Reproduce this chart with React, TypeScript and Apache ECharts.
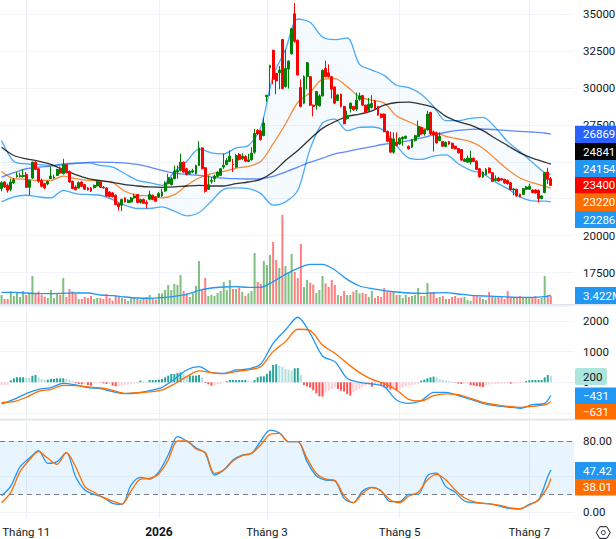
import React, { useEffect, useRef } from "react";
import * as echarts from "echarts";

const FONT = "Roboto, sans-serif";
const FONT_SIZE = 11.5;
const SLOTS = 186;
const tickBars = [8, 51, 86, 129, 171];
const tickLabels = ["Tháng 11", "2026", "Tháng 3", "Tháng 5", "Tháng 7"];

const opens = [
23185,23633,23409,23140,23588,23992,23992,24014,24149,23274,
23902,24978,24530,23745,23521,23498,23857,23902,24081,24575,
24194,24799,24350,23678,23297,23230,23633,23454,23230,23230,
23252,23364,23633,23274,23230,22960,22893,22736,22176,22064,
22557,22243,22288,22557,22781,22243,22445,22243,22467,22736,
22624,22624,22691,23028,23521,23454,23857,24306,24418,24978,
24530,24194,24306,24194,24754,25942,24597,23140,23678,23857,
24014,24081,24642,24821,25023,24821,24642,25494,25202,25360,
25023,25135,25651,27130,27086,26772,29417,31368,32534,30987,
31032,33274,30090,31278,32310,35022,33229,30023,28969,30763,
30763,28834,28834,28790,29462,31323,31032,30763,30067,29148,
29574,28745,27938,28610,28745,28565,29238,29484,28834,28453,
28678,29126,28745,28229,28229,27063,26592,25651,26323,26211,
26548,26592,26054,25987,26436,26705,27332,26884,27175,28341,
26996,26951,26436,26368,26032,26368,26256,26054,25897,25830,
25023,24978,24978,25247,25046,24530,23970,24126,24575,24261,
23745,23902,23857,23812,23745,23588,23095,23140,22803,22803,
23140,23140,23095,23095,23073,22512,22916,24306,23857];
const closes = [
23588,23297,23073,23633,23790,24081,24059,24081,23274,23745,
24978,24485,23678,23342,23230,23678,24037,23970,24485,24239,
24821,24261,23633,23185,23117,23588,23342,23140,23095,23028,
23409,23655,23274,23230,22691,22647,22647,22108,21952,22445,
22288,22400,22557,22691,22243,22445,22198,22154,22781,22445,
22333,22848,22960,23566,23925,23857,24373,24418,24978,24306,
24126,24350,24395,24754,25942,24530,23005,23454,23745,24037,
24306,24530,24754,25090,25382,24799,25427,25158,25382,25046,
25135,25584,26929,26884,26503,27624,29507,31525,30583,30471,
31211,29956,31323,31816,34013,33161,30875,28745,30763,31704,
28834,28745,29754,29462,31188,30763,30763,29911,28969,29529,
28745,27579,28117,28969,28520,29171,29462,28834,28341,28902,
28947,28610,28162,28005,27041,26391,25651,26548,26099,26592,
26660,26727,25875,26503,26772,27377,26884,27175,28229,26884,
26817,26279,26727,26054,26323,26211,25920,25875,25606,25113,
25158,25247,25247,25023,24485,23992,24306,24485,24261,23678,
23857,23700,23768,23566,23521,23117,23162,22691,22647,23185,
23297,23342,22916,22893,22512,22691,24261,23812,23400];
const highs = [
23678,23678,23521,23857,23902,24306,24261,24485,24306,23790,
25023,25023,24575,23857,23588,23723,24687,24126,24530,24687,
25202,24844,24395,23723,23409,23678,23678,23521,23297,23297,
23454,23700,23678,23364,23274,23005,22960,22781,22243,22512,
22602,22467,22624,22848,22826,22512,22512,22400,23050,22781,
22669,22960,23185,23678,24194,23970,24754,24754,25539,25023,
24597,24440,24530,24799,26391,25987,24642,24081,23970,24126,
24350,24575,25539,25247,25763,25202,25539,25584,25584,25427,
25539,25987,27220,27220,27175,28005,29507,31570,32601,31032,
31480,33319,32601,31861,34058,35740,33274,30583,30852,31749,
30807,28879,29799,29574,31256,31839,31592,30807,30090,29574,
29619,28790,28453,29014,28790,29686,29686,29529,28879,29328,
29507,29171,28790,28274,28274,27108,27041,26996,26996,26660,
26727,26772,26099,26548,26817,27781,27377,27220,28453,28386,
27108,27041,26996,26413,26368,26413,26301,26099,25942,25875,
25247,25427,25741,25292,25090,24575,24350,24575,24620,24306,
24081,23970,23902,23857,23790,23633,23230,23185,22848,23230,
23364,23521,23140,23140,23117,22736,24306,24597,23970];
const lows = [
23005,23230,22916,23005,23498,23925,23947,23925,23230,22736,
23857,24440,23588,23274,23140,23409,23835,23857,24037,24171,
24149,24216,23588,23140,23050,23185,23274,23095,23050,22960,
23185,23319,23230,23185,22647,22602,22580,22064,21705,21660,
22243,22198,22221,22512,22198,22176,22154,21840,22400,22400,
22288,22557,22624,22960,23476,23409,23812,23857,24350,24261,
24081,24126,24239,24149,24709,24485,22916,23095,23521,23633,
23970,24037,24530,24754,24978,24306,24597,25090,25135,24978,
24978,25090,25539,26817,26436,26727,29059,29462,30247,29574,
29911,29911,30023,29956,32265,33049,30852,28678,28902,29911,
28790,28072,28520,28745,29417,30718,30695,29283,28902,29103,
28678,27534,27848,28341,28453,28453,29126,28790,28296,28386,
28610,28565,28117,27938,26996,26323,25606,25539,26054,26144,
26099,26548,25830,25920,26368,26660,26817,26772,27108,26817,
25696,26234,26391,26009,25987,26144,25875,25830,25561,25068,
24978,24934,24821,24978,24440,23925,23902,24081,24216,23633,
23678,23655,23723,23521,23454,23073,22736,22647,22602,22759,
23095,23095,22871,22848,22243,22467,22871,23498,23380];

const volumeM = [
3.54,1.97,1.97,4.98,3.14,4.45,2.75,5.11,3.54,4.19,
11,3.93,4.98,3.54,2.88,2.36,5.5,2.36,4.19,3.67,
10.22,2.75,5.9,4.98,3.93,1.97,1.97,2.75,2.36,3.14,
1.97,2.36,2.36,1.97,3.93,2.36,1.31,3.41,2.75,2.36,
1.97,1.18,2.75,2.36,1.97,1.7,2.36,2.75,3.54,1.97,
1.7,4.19,4.19,5.5,7.47,5.5,7.86,7.47,11.4,5.11,
4.19,2.75,4.19,7.07,16.9,5.5,10.22,3.14,3.54,3.14,
4.32,5.11,8.65,5.5,9.43,5.9,5.9,6.55,4.72,3.14,
4.19,5.11,20.04,8.65,7.86,16.9,15.33,19.26,24.37,17.29,
14.15,34.98,14.93,12.58,19.65,12.58,10.22,23.58,6.68,9.43,
8.38,7.6,4.32,5.5,11,8.12,6.68,9.43,7.47,3.54,
3.14,5.11,3.54,3.54,4.85,5.5,4.19,4.32,3.93,2.75,
5.11,2.36,3.14,2.75,6.29,5.11,5.11,4.72,3.54,3.54,
2.36,3.54,2.75,3.14,3.54,6.29,3.14,3.14,8.25,4.72,
4.72,2.36,2.75,3.14,1.97,1.97,2.75,3.14,2.36,2.49,
2.75,1.57,1.18,3.14,3.54,2.75,1.97,1.57,4.72,3.14,
3.14,3.14,2.75,1.97,5.11,2.36,2.36,2.36,3.14,2.36,
2.36,2.75,2.36,3.14,1.97,2.36,11,3.54,3.14];

const macdHist = [
-87,-87,-87,65,130,163,163,163,152,141,
217,239,163,109,76,87,109,109,130,130,
130,119,87,43,-33,-54,-65,-65,-87,-109,
-33,-33,-22,-33,-54,-54,-109,-130,-119,-109,
-76,-76,-54,-43,-33,54,33,22,76,76,
76,87,109,163,217,272,272,304,326,272,
217,217,217,217,239,163,-22,-65,-109,-109,
-65,-54,-22,33,76,76,76,76,76,76,
54,33,76,163,195,195,272,380,565,586,
543,500,434,413,380,456,467,239,-87,-130,
-174,-261,-358,-456,-467,-326,-272,-217,-163,-217,
-272,-304,-380,-434,-326,-272,-217,-163,-109,-87,
-152,-87,-65,-87,-163,-195,-239,-239,-272,-239,
-174,-141,-109,-87,-76,-54,54,87,130,163,
185,163,109,76,54,33,22,-11,-43,-54,
-43,-43,-87,-109,-130,-141,-152,-109,-76,-54,
-54,-54,-43,-43,-33,-43,-43,-33,-22,-22,
43,65,76,76,76,76,163,239,200];

const lineBars = [0,4,8,12,16,20,24,28,32,36,40,44,48,52,56,60,64,68,72,76,80,84,88,92,96,100,104,108,112,116,120,124,128,132,136,140,144,148,152,156,160,164,168,172,176,178];
const bbUpper = [
26436,25023,24866,24821,24754,24866,24911,24933,24754,24642,
24194,23745,23588,23409,24350,25023,25875,25606,25539,25942,
26099,27332,30807,32601,34664,34439,33453,33274,33386,31592,
31211,30852,30180,30023,29574,28745,27781,27781,27938,28005,
27332,26368,25696,24978,24261,24154];
const bbMid = [
24350,23857,23812,23745,23745,24037,23857,23745,23700,23588,
23005,22736,22691,22557,22781,23409,23902,24194,24350,24575,
24687,25023,26211,27557,29014,29686,30583,30628,30090,29395,
29171,28969,28117,27713,27332,27041,26727,26548,26368,25920,
25202,24485,23902,23588,23342,23220];
const bbLower = [
22288,22624,22736,22624,22557,23073,22848,22781,22736,22445,
22064,21840,21840,21952,21660,21346,21570,22333,23140,23229,
23185,22848,22064,22288,23073,25875,27624,27893,27108,27332,
27355,27108,26099,25247,25158,25382,25471,24866,24418,24194,
23633,23185,22624,22355,22333,22286];
const maBlack = [
25987,25427,25202,25046,24821,24463,24126,23857,23723,23611,
23454,23364,23297,23274,23297,23364,23409,23364,23364,23521,
23633,23812,24306,25090,25763,26548,27265,27713,28072,28229,
28453,28834,29014,29036,28902,28678,28072,27713,27489,27108,
26592,26099,25606,25247,24978,24841];
const maBlue = [
23969,24261,24530,24642,24709,24799,24888,24956,24978,24956,
24911,24821,24642,24418,24239,24149,24081,23969,23902,23857,
23835,23857,24014,24306,24642,24978,25247,25539,25696,25875,
26032,26189,26279,26436,26615,26817,27000,27130,27198,27220,
27175,27108,27063,27018,26951,26869];
const volumeMA = [
4.59,4.59,4.32,4.06,4.06,4.19,4.32,4.32,3.54,3.28,
2.75,2.36,2.23,2.49,3.01,3.8,5.37,6.29,6.68,6.81,
6.55,6.55,8.78,11.66,14.02,15.59,15.59,13.36,9.69,7.07,
6.03,5.24,4.72,4.32,4.19,4.32,4.45,3.93,3.41,3.14,
3.01,2.75,2.62,2.62,2.88,3.422];
const macdLine = [
-706,-554,-369,-228,-174,-33,-87,-174,-206,-304,
-369,-348,-272,-163,98,402,510,315,293,402,
434,597,1271,1705,2118,1596,858,673,130,0,
-54,-141,-576,-684,-597,-326,-326,-434,-554,-684,
-760,-804,-847,-728,-684,-431];
const macdSignal = [
-652,-630,-489,-293,-228,-98,-109,-152,-185,-261,
-358,-337,-315,-250,-54,185,369,315,282,348,
402,510,999,1325,1727,1683,1216,945,619,315,
98,-33,-250,-554,-608,-434,-380,-402,-521,-652,
-728,-782,-815,-782,-738,-631];

const stochBars = [0,3,6,9,12,15,18,21,24,27,30,33,36,39,42,45,48,51,54,57,60,63,66,69,72,75,78,81,84,87,90,93,96,99,102,105,108,111,114,117,120,123,126,129,132,135,138,141,144,147,150,153,156,159,162,165,168,171,174,177,178];
const stochK = [
18.4,29.3,51.2,60.7,69.3,55,56.9,67.1,39.9,24.8,
19.9,16.5,9.7,8.6,30.5,39.1,37.2,45.6,64.4,85.2,
80.3,72.7,66.3,41.8,47.4,58.8,64.4,66.3,80.3,92.7,
89.7,79.5,79.5,56.9,41,36.1,35,15.4,10.4,23.7,
27.8,23.7,11.6,11.6,19.9,19.9,41,44,28.6,22.2,
12.3,10.4,9.7,8.6,5.9,3.7,3.3,8.6,13.5,39.9,47.42];
const stochD = [
10.4,22.2,45.6,58.8,68.2,60.7,53.9,67.1,51.2,28.6,
22.2,16.1,12.3,8.9,23.7,37.2,38,43.3,58.8,80.3,
80.3,71.2,67.5,43.7,47.4,57.6,63.7,66.3,75.8,87.8,
89,79.5,79.5,60.7,43.7,37.2,35.7,18.4,10.4,21,
27.4,23.7,13.5,10.4,18,22.2,36.1,42.5,36.1,24.8,
16.1,11.6,9.7,8.9,7.1,4.4,3.7,7.8,13.5,28.6,38.01];

const priceBadges = [
  { text: "26869", top: 125.7, h: 17.4, fill: "#2962ff" },
  { text: "24841", top: 143.1, h: 17, fill: "#000000" },
  { text: "24154", top: 160.1, h: 17, fill: "#2196f3" },
  { text: "23400", top: 177.1, h: 16.6, fill: "#ff0000" },
  { text: "23220", top: 193.7, h: 17.3, fill: "#ff6d00" },
  { text: "22286", top: 211, h: 17, fill: "#2196f3" },
  { text: "3.422M", top: 287, h: 17, fill: "#2196f3" },
  { text: "−431", top: 387.5, h: 16.5, fill: "#2196f3" },
  { text: "−631", top: 404, h: 15.5, fill: "#ff6d00" },
  { text: "47.42", top: 462, h: 17, fill: "#2196f3" },
  { text: "38.01", top: 479, h: 16.5, fill: "#ff6d00" },
];

const GRID = "#f0f3fa";
const SEP = "#e0e3eb";
const pairs = (xs: number[], ys: number[]) => xs.map((x, i) => [x, ys[i]]);

function buildOption() {
  const labelled = new Map(tickBars.map((b, i) => [b, tickLabels[i]]));
  const cats = Array.from({ length: SLOTS }, (_, i) => labelled.get(i) ?? String(i));
  const isTick = (i: number) => labelled.has(i);

  const hiddenX = (gridIndex: number) => ({
    type: "category", gridIndex, data: cats, boundaryGap: true, show: false,
  });
  const yLabel = { color: "#131722", fontFamily: FONT, fontSize: FONT_SIZE, margin: 9, align: "left" as const, formatter: (v: number) => String(v) };
  const lineSeries = (name: string, xs: number[], ys: number[], axis: number, color: string, width = 1.3, z = 3) => ({
    type: "line", name, xAxisIndex: axis, yAxisIndex: axis, data: pairs(xs, ys),
    showSymbol: false, smooth: 0.3, lineStyle: { color, width }, silent: true, z,
  });

  const isUp = (i: number) => closes[i] >= opens[i];
  const green = "#008000", red = "#ff0000";
  const gridBase = { left: 0, right: 42, outerBoundsMode: "none", containLabel: false };
  const badgeFont = `${FONT_SIZE}px ${FONT}`;

  return {
    animation: false,
    tooltip: { show: false },
    grid: [
      { ...gridBase, top: 0, height: 518 },          // frame: vertical lines and time labels
      { ...gridBase, top: -22.88, height: 295.5 },   // price
      { ...gridBase, top: 0, height: 304 },          // volume
      { ...gridBase, top: 306, height: 107 },        // MACD
      { ...gridBase, top: 420, height: 91.9 },       // stochastic
    ],
    xAxis: [
      {
        type: "category", gridIndex: 0, data: cats, boundaryGap: true, position: "bottom",
        axisLine: { show: false }, axisTick: { show: false },
        splitLine: { show: true, alignWithLabel: true, interval: (i: number) => isTick(i), lineStyle: { color: "#eceff6", width: 1 } },
        axisLabel: {
          show: true, interval: (i: number) => isTick(i), margin: 8, color: "#131722", fontFamily: FONT, fontSize: FONT_SIZE,
          hideOverlap: false,
          formatter: (v: string) => (v === "2026" ? "{b|2026}" : v),
          rich: { b: { fontWeight: "bold", fontFamily: FONT, fontSize: 12, color: "#131722" } },
        },
      },
      hiddenX(1), hiddenX(2), hiddenX(3), hiddenX(4),
    ],
    yAxis: [
      { type: "value", gridIndex: 0, show: false, min: 0, max: 1 },
      {
        type: "value", gridIndex: 1, position: "right", min: 17500, max: 37500, interval: 2500,
        axisLine: { show: false }, axisTick: { show: false }, axisLabel: { ...yLabel, showMaxLabel: false },
        splitLine: { lineStyle: { color: GRID, width: 1 } },
      },
      { type: "value", gridIndex: 2, show: false, min: 0, max: 119.5, splitLine: { show: false } },
      {
        type: "value", gridIndex: 3, position: "right", min: -1000, max: 2485, interval: 1000,
        axisLine: { show: false }, axisTick: { show: false }, axisLabel: { ...yLabel, showMaxLabel: false },
        splitLine: { lineStyle: { color: GRID, width: 1 } },
      },
      {
        type: "value", gridIndex: 4, position: "right", min: 0, max: 104.1, interval: 40,
        axisLine: { show: false }, axisTick: { show: false },
        axisLabel: { ...yLabel, showMaxLabel: false, formatter: (v: number) => v.toFixed(2) },
        splitLine: { lineStyle: { color: GRID, width: 1 } },
      },
    ],
    graphic: [
      { type: "line", z: 90, shape: { x1: 0, y1: 304.8, x2: 616, y2: 304.8 }, style: { stroke: SEP, lineWidth: 1.4 } },
      { type: "line", z: 90, shape: { x1: 0, y1: 419.4, x2: 616, y2: 419.4 }, style: { stroke: SEP, lineWidth: 1.4 } },
      ...priceBadges.flatMap((b) => [
        { type: "rect", z: 100, shape: { x: 575, y: b.top, width: 41, height: b.h }, style: { fill: b.fill } },
        { type: "text", z: 101, x: 583, y: b.top + b.h / 2, style: { text: b.text, fill: "#ffffff", font: badgeFont, verticalAlign: "middle" } },
      ]),
      { type: "rect", z: 100, shape: { x: 575, y: 368, width: 32, height: 17, r: 2 }, style: { fill: "#ace5dc" } },
      { type: "text", z: 101, x: 583, y: 376.5, style: { text: "200", fill: "#131722", font: badgeFont, verticalAlign: "middle" } },
      {
        type: "polygon", z: 100,
        shape: { points: [[596.3, 532.7], [599.8, 526.7], [606.8, 526.7], [610.3, 532.7], [606.8, 538.4], [599.8, 538.4]] },
        style: { fill: "none", stroke: "#131722", lineWidth: 1 },
      },
      { type: "circle", z: 100, shape: { cx: 603.3, cy: 532.6, r: 2 }, style: { fill: "none", stroke: "#131722", lineWidth: 1 } },
    ],
    series: [
      {
        type: "custom", xAxisIndex: 1, yAxisIndex: 1, silent: true, clip: true, z: 1,
        data: [[lineBars[0], bbUpper[0]]],
        renderItem: (_: unknown, api: any) => {
          const top = lineBars.map((b, i) => api.coord([b, bbUpper[i]]));
          const bottom = lineBars.map((b, i) => api.coord([b, bbLower[i]])).reverse();
          return { type: "polygon", shape: { points: [...top, ...bottom] }, style: { fill: "rgba(33,150,243,0.05)" } };
        },
      },
      lineSeries("BB upper", lineBars, bbUpper, 1, "rgba(33,150,243,0.8)"),
      lineSeries("BB lower", lineBars, bbLower, 1, "rgba(33,150,243,0.8)"),
      lineSeries("BB mid", lineBars, bbMid, 1, "rgba(255,109,0,0.8)"),
      lineSeries("MA slow", lineBars, maBlue, 1, "rgba(41,98,255,0.75)"),
      lineSeries("MA", lineBars, maBlack, 1, "rgba(0,0,0,0.8)"),
      {
        type: "candlestick", xAxisIndex: 1, yAxisIndex: 1, silent: true, barWidth: 2.4, z: 4,
        data: opens.map((o, i) => [o, closes[i], lows[i], highs[i]]),
        itemStyle: { color: green, color0: red, borderColor: green, borderColor0: red, borderWidth: 1 },
      },
      {
        type: "bar", xAxisIndex: 2, yAxisIndex: 2, silent: true, barWidth: 2, z: 2,
        data: volumeM.map((v, i) => ({ value: v, itemStyle: { color: isUp(i) ? "rgba(0,128,0,0.5)" : "rgba(255,0,0,0.5)" } })),
      },
      lineSeries("Volume MA", lineBars, volumeMA, 2, "#2196f3", 1.3),
      {
        type: "bar", xAxisIndex: 3, yAxisIndex: 3, silent: true, barWidth: 2, z: 2,
        data: macdHist.map((v, i) => {
          const prev = i ? macdHist[i - 1] : v;
          const color = v >= 0 ? (v >= prev ? "#26a69a" : "#b2dfdb") : v < prev ? "#ff5252" : "#ffcdd2";
          return { value: v, itemStyle: { color } };
        }),
      },
      lineSeries("MACD", lineBars, macdLine, 3, "#2196f3"),
      lineSeries("Signal", lineBars, macdSignal, 3, "#ff6d00"),
      {
        ...lineSeries("%K", stochBars, stochK, 4, "#2196f3"),
        markArea: {
          silent: true, z: 1,
          itemStyle: { color: "rgba(33,150,243,0.1)" },
          data: [[{ yAxis: 80 }, { yAxis: 20 }]],
        },
        markLine: {
          silent: true, symbol: "none", z: 2, label: { show: false },
          lineStyle: { color: "#787b86", type: [5, 4], width: 1 },
          data: [{ yAxis: 80 }, { yAxis: 20 }],
        },
      },
      lineSeries("%D", stochBars, stochD, 4, "#ff6d00", 1.3, 4),
    ],
  };
}

export default function App() {
  const ref = useRef<HTMLDivElement>(null);
  useEffect(() => {
    document.body.style.margin = "0";
    const chart = echarts.init(ref.current!, undefined, { renderer: "svg" });
    chart.setOption(buildOption() as any);
    return () => chart.dispose();
  }, []);
  return <div ref={ref} style={{ width: 616, height: 539, background: "#fff" }} />;
}
